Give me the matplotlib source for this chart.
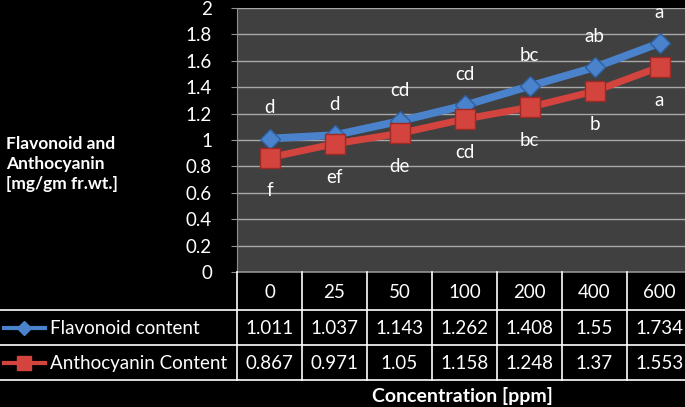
"""Flavonoid and anthocyanin content against concentration, Excel-style chart with data table."""

import matplotlib
matplotlib.use("Agg")
import matplotlib.pyplot as plt

concentrations = ["0", "25", "50", "100", "200", "400", "600"]
flavonoid = [1.011, 1.037, 1.143, 1.262, 1.408, 1.55, 1.734]
anthocyanin = [0.867, 0.971, 1.05, 1.158, 1.248, 1.37, 1.553]
flavonoid_letters = ["d", "d", "cd", "cd", "bc", "ab", "a"]
anthocyanin_letters = ["f", "ef", "de", "cd", "bc", "b", "a"]
series_names = ["Flavonoid content", "Anthocyanin Content"]
y_ticks = [0, 0.2, 0.4, 0.6, 0.8, 1, 1.2, 1.4, 1.6, 1.8, 2]

BLUE = "#4a82cc"
RED = "#d4443e"
FONT = ["Lato", "DejaVu Sans"]
W, H = 685, 407
FS = 13.5

plt.rcParams["font.family"] = FONT
fig = plt.figure(figsize=(W / 100, H / 100), dpi=100, facecolor="black")

# plot area in pixels: x 237..692 (runs past the right edge), y 8..272
px_left, px_right, px_top, px_bottom = 237, 692, 8, 272
ax = fig.add_axes([px_left / W, 1 - px_bottom / H,
                   (px_right - px_left) / W, (px_bottom - px_top) / H])
ax.set_facecolor("#404040")
x = range(len(concentrations))
ax.set_xlim(-0.5, len(concentrations) - 0.5)
ax.set_ylim(0, 2)
ax.set_yticks(y_ticks)
ax.set_yticklabels([f"{t:g}" for t in y_ticks], color="white", fontsize=FS)
ax.tick_params(axis="y", length=4, color="#909090", pad=14)
ax.set_xticks([])
ax.yaxis.grid(True, color="#a8a8a8", linewidth=1)
ax.set_axisbelow(True)
for side in ["top", "right", "bottom"]:
    ax.spines[side].set_visible(False)
ax.spines["left"].set_color("#909090")

ax.plot(x, flavonoid, color=BLUE, lw=5.5, marker="D", ms=10,
        mfc=BLUE, mec="#2f5f9e", mew=1, zorder=3, solid_capstyle="butt")
ax.plot(x, anthocyanin, color=RED, lw=5, marker="s", ms=15,
        mfc=RED, mec="#9e2a26", mew=1, zorder=4, solid_capstyle="butt")

for xi, v, s in zip(x, flavonoid, flavonoid_letters):
    ax.annotate(s, (xi, v), xytext=(0, 22), textcoords="offset points",
                ha="center", va="center", color="white", fontsize=FS)
for xi, v, s in zip(x, anthocyanin, anthocyanin_letters):
    ax.annotate(s, (xi, v), xytext=(0, -24), textcoords="offset points",
                ha="center", va="center", color="white", fontsize=FS)

fig.text(6 / W, 1 - 164 / H, "Flavonoid and\nAnthocyanin\n[mg/gm fr.wt.]",
         ha="left", va="center", color="white", fontsize=12.5,
         fontweight="bold", linespacing=1.3)

# data table below the plot, drawn in pixel coordinates
tab = fig.add_axes([0, 0, 1, 1])
tab.set_xlim(0, W)
tab.set_ylim(H, 0)
tab.axis("off")
col_w = (px_right - px_left) / len(concentrations)
row_edges = [272, 310, 345, 380]
line_kw = dict(color="white", lw=1.2)
tab.plot([px_left, W], [row_edges[0]] * 2, color="#909090", lw=1.2)
for r in row_edges[1:]:
    tab.plot([0, W], [r, r], **line_kw)
for i in range(len(concentrations) + 1):
    cx = px_left + i * col_w
    tab.plot([cx, cx], [row_edges[0], row_edges[-1]], **line_kw)

rows = [concentrations, [f"{v:g}" for v in flavonoid], [f"{v:g}" for v in anthocyanin]]
for r, vals in enumerate(rows):
    cy = (row_edges[r] + row_edges[r + 1]) / 2 + 1
    for i, s in enumerate(vals):
        tab.text(px_left + (i + 0.5) * col_w, cy, s, ha="center", va="center",
                 color="white", fontsize=FS)

legend_styles = [(BLUE, "D", 7), (RED, "s", 10)]
for r, (name, (c, m, ms)) in enumerate(zip(series_names, legend_styles)):
    cy = (row_edges[r + 1] + row_edges[r + 2]) / 2
    tab.plot([4, 45], [cy, cy], color=c, lw=3, marker=None)
    tab.plot([24.5], [cy], color=c, marker=m, ms=ms, mec=c)
    tab.text(50, cy + 1, name, ha="left", va="center", color="white", fontsize=FS)

fig.text(462 / W, 1 - 396 / H, "Concentration [ppm]", ha="center", va="center",
         color="white", fontsize=14, fontweight="bold")

fig.savefig("out.png", dpi=100, facecolor="black")
